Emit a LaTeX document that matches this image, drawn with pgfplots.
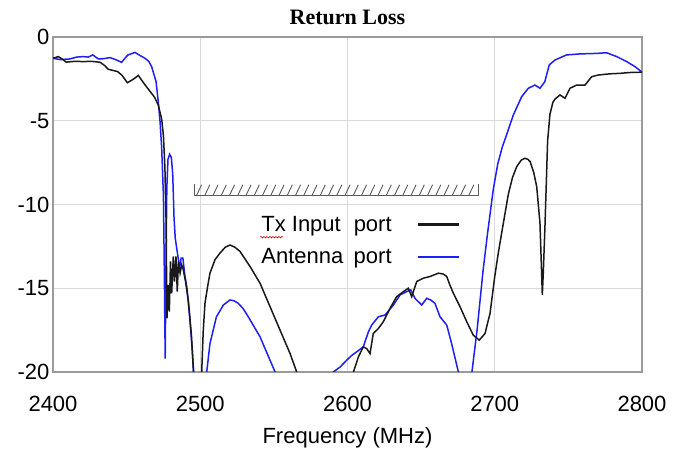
\documentclass[border=0pt]{standalone}
\usepackage{fontspec}
\setmainfont{Liberation Sans}
\newfontfamily\titlefont{Liberation Serif}
\usepackage{pgfplots}
\pgfplotsset{compat=1.18}
\usetikzlibrary{decorations.pathmorphing}
\definecolor{rlblue}{RGB}{30,30,250}
\definecolor{rlblack}{RGB}{25,25,25}
\definecolor{gridgray}{RGB}{218,218,218}
\definecolor{framegray}{RGB}{155,155,155}
\definecolor{hatchgray}{RGB}{90,90,90}

\begin{document}
\begin{tikzpicture}
\useasboundingbox (0,0) rectangle (685pt,449pt);
\begin{axis}[
  at={(53pt,77pt)}, anchor=south west,
  scale only axis, width=589pt, height=335pt,
  xmin=2400, xmax=2800, ymin=-20, ymax=0,
  xtick={2400,2500,...,2800}, ytick={-20,-15,...,0},
  major tick length=0pt,
  grid=major, grid style={gridgray, line width=0.9pt},
  axis line style={framegray, line width=1.2pt},
  /pgf/number format/assume math mode=true,
  /pgf/number format/1000 sep={},
  tick label style={font=\fontsize{22}{26}\selectfont},
  xticklabel style={anchor=base, yshift=-40pt},
  title={\titlefont\bfseries Return Loss},
  title style={at={(0.5,1)}, anchor=base, yshift=6pt, font=\fontsize{22}{26}\selectfont},
  xlabel={Frequency (MHz)},
  xlabel style={at={(0.5,0)}, anchor=base, yshift=-72pt, font=\fontsize{22}{26}\selectfont},
  legend style={draw=none, fill=none, at={(axis cs:2540,-12.17)}, anchor=west,
    inner sep=0pt, row sep=12pt, column sep=23pt, font=\fontsize{22}{26}\selectfont},
  legend plot pos=right,
  legend image code/.code={\draw[#1, line width=2.4pt] (0pt,0pt) -- (41pt,0pt);},
  reverse legend,
]
% antenna port
\addplot[rlblue, line width=1.5pt] coordinates {
(2400,-1.27) (2405,-1.35) (2411.5,-1.31) (2416,-1.2) (2420.6,-1.17) (2424,-1.2)
(2427,-1.07) (2430.8,-1.31) (2434,-1.3) (2438.7,-1.23) (2442.5,-1.35) (2446.6,-1.51)
(2449,-1.25) (2451,-1.07) (2455.7,-0.92) (2459,-1.1) (2462.5,-1.27) (2465,-1.45)
(2467,-1.77) (2470,-2.67) (2471.5,-3.86) (2472.7,-5.06) (2473.8,-6.6) (2475,-9.5)
(2475.6,-14) (2476.2,-19.2) (2476.7,-14) (2477.3,-9) (2478.1,-7.3) (2479.2,-7.0)
(2480.4,-7.2) (2481.3,-8.2) (2482.2,-10.8) (2483,-12.0) (2484,-12.6) (2485,-13.2)
(2486,-13.8) (2487,-13.2) (2488.2,-13.2) (2489.5,-14.2) (2491,-15.0) (2493,-16.9)
(2494.5,-18.6) (2495.5,-20) (2497,-23) (2503,-23) (2504.4,-20) (2506.6,-18.3)
(2511,-16.7) (2515.7,-16.0) (2520.2,-15.7) (2523,-15.75) (2525.8,-15.9) (2529,-16.2)
(2532.6,-16.7) (2540.6,-17.9) (2547.4,-19.3) (2550.8,-20) (2553,-21) (2588,-21)
(2590.4,-20) (2595,-19.7) (2599.4,-19.3) (2603,-19.0) (2606.2,-18.8) (2610.7,-18.5)
(2614.2,-17.6) (2616.4,-17.2) (2621,-16.7) (2625.5,-16.6) (2631.2,-16.0) (2635.7,-15.4)
(2640.2,-15.2) (2643,-15.1) (2645.8,-15.6) (2650.4,-16.0) (2653.8,-15.6) (2656.5,-15.7)
(2659.4,-15.9) (2662.8,-16.7) (2667.4,-17.2) (2670.7,-18.3) (2675.3,-20) (2677,-21)
(2683,-21) (2684.5,-20) (2688,-17.5) (2692,-14) (2695,-11.8) (2699,-9.1) (2702,-7.6)
(2705,-6.6) (2708,-5.85) (2712.6,-4.66) (2718.3,-3.56) (2722.8,-3.06) (2727.3,-2.87)
(2730.7,-3.06) (2734,-2.67) (2737,-1.67) (2741,-1.37) (2748.8,-1.07) (2758,-1.01)
(2769,-0.98) (2776,-0.94) (2782.8,-1.17) (2789.6,-1.47) (2795.3,-1.77) (2800,-2.1)
};
\addlegendentry{\makebox[4.2em][l]{Antenna}port}
% tx input port
\addplot[rlblack, line width=1.5pt] coordinates {
(2400,-1.27) (2403.6,-1.17) (2406,-1.3) (2409,-1.5) (2415,-1.45) (2420.6,-1.47)
(2426,-1.45) (2432,-1.51) (2435,-1.7) (2437.6,-1.93) (2441,-2.0) (2444,-2.07)
(2447,-2.3) (2450.5,-2.73) (2454,-2.55) (2458,-2.3) (2462,-2.8) (2466,-3.26)
(2469,-3.6) (2471.5,-4.06) (2473.8,-4.9) (2475,-5.9) (2476,-7.8) (2476.8,-11)
(2477.4,-16.8) (2478.2,-14.8) (2479,-16.4) (2479.8,-13.4) (2480.6,-15.3) (2481.7,-13.1)
(2482.5,-14.6) (2483.5,-13.1) (2484.4,-15.2) (2485.2,-13.4) (2486.3,-14.1) (2487.4,-13.6)
(2488.5,-13.9) (2490,-14.6) (2492,-15.8) (2494,-17.8) (2495.4,-20) (2496.5,-23)
(2500,-23) (2501,-20) (2502,-17.6) (2503.2,-15.9) (2505,-14.9) (2506.6,-14.1)
(2510,-13.3) (2513.4,-12.9) (2517,-12.55) (2520.2,-12.42) (2523.5,-12.55) (2527,-12.8)
(2530,-13.2) (2533.8,-13.7) (2540.6,-14.7) (2547.4,-16.1) (2554.2,-17.5) (2561,-18.9)
(2565.5,-20) (2568,-21) (2600,-21) (2604,-20) (2607.4,-19.1) (2610.7,-18.5)
(2613,-18.6) (2615.3,-18.9) (2617.5,-17.7) (2621,-17.4) (2624.3,-17.0) (2628.9,-16.2)
(2633.4,-15.5) (2638,-15.2) (2641.3,-15.0) (2643.6,-15.5) (2647,-14.6) (2651.5,-14.4)
(2656,-14.3) (2661.7,-14.1) (2665,-14.15) (2667.4,-14.3) (2669.5,-14.8) (2671.9,-15.3)
(2676.4,-16.1) (2681,-17.0) (2685.4,-17.8) (2689.5,-18.1) (2693.4,-17.7) (2696.8,-16.5)
(2700,-14.3) (2702.4,-12.9) (2704.7,-11.7) (2709.2,-9.4) (2712,-8.4) (2714.9,-7.74)
(2718,-7.35) (2720.5,-7.24) (2722.5,-7.3) (2724,-7.44) (2726.5,-8.1) (2728.5,-8.94)
(2730.7,-11.1) (2731.8,-14) (2732.3,-15.4) (2733,-14) (2734.1,-11.3) (2735.9,-6.2)
(2737.5,-4.6) (2739.5,-3.9) (2741,-3.7) (2744.3,-3.46) (2747.7,-3.66) (2751.1,-3.06)
(2755.6,-2.87) (2761.3,-2.87) (2765.8,-2.37) (2770.3,-2.27) (2778,-2.2) (2785,-2.17)
(2792,-2.12) (2800,-2.1)
};
\addlegendentry{\makebox[4.2em][l]{Tx Input}port}
% hatched limit line
\draw[hatchgray, line width=0.9pt] (axis cs:2496,-8.8) -- (axis cs:2496,-9.45)
  -- (axis cs:2689,-9.45) -- (axis cs:2689,-8.8);
\coordinate (hatchL) at (axis cs:2497.5,-9.45);
% spell-check squiggle under "Tx"
\draw[red!85!black, line width=0.6pt, decorate,
  decoration={snake, amplitude=0.7pt, segment length=3pt}]
  (axis cs:2540.6,-11.95) -- (axis cs:2556.2,-11.95);
\end{axis}
\foreach \i in {0,...,33}
  \draw[hatchgray, line width=0.9pt] ([xshift=\i*8.25pt]hatchL) -- ++(5pt,10.5pt);
\end{tikzpicture}
\end{document}
